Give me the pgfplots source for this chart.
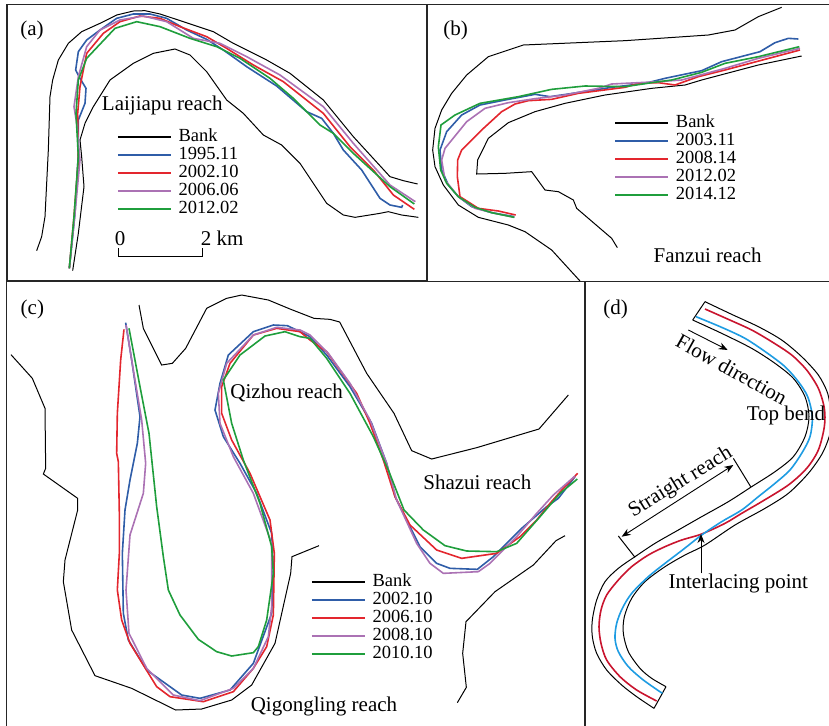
\documentclass[border=0pt]{standalone}
\usepackage{fontspec}
\setmainfont{Liberation Serif}
\usepackage{pgfplots}
\pgfplotsset{compat=1.18}
\usetikzlibrary{arrows.meta}
\definecolor{cblue}{HTML}{2F5DA8}
\definecolor{cred}{HTML}{E3262E}
\definecolor{cpurple}{HTML}{AB72B4}
\definecolor{cgreen}{HTML}{1F9E3C}
\definecolor{dblue}{HTML}{1E9CE2}
\definecolor{dred}{HTML}{C9142E}
\newcommand{\lab}{\fontsize{21}{21}\selectfont}
\newcommand{\leg}{\fontsize{18.5}{18.5}\selectfont}
\pgfplotsset{
  panel/.style={scale only axis, anchor=north west, y dir=reverse, xtick=\empty, ytick=\empty,
    axis line style={line width=1.5pt, color=black!85}, every axis plot/.append style={no markers},
    legend cell align=left,
    legend image code/.code={\draw[##1, line width=1.8pt] (0pt,0pt)--(53pt,0pt); \path (60pt,0pt);},
    legend style={draw=none, fill=none, anchor=north west, font=\leg, inner sep=0pt, row sep=0pt,
      nodes={inner sep=0pt, text height=13.5pt, text depth=4.5pt}}},
  bank/.style={black, line width=1pt},
  s/.style={#1, line width=1.6pt},
}
\begin{document}
\begin{tikzpicture}
\useasboundingbox (0pt,-725pt) rectangle (829pt,0pt);
% (a)
\begin{axis}[panel, at={(7pt,-4.67pt)}, width=420.33pt, height=276.33pt,
  xmin=21, xmax=1282, ymin=14, ymax=843, legend style={at={(axis cs:350,384)}}]
\addplot[bank] coordinates {(110,752)(125,710)(135,650)(145,450)(150,290)(158,240)(175,180)(205,130)(245,95)(300,70)(350,45)(400,33)(435,32)(480,42)(550,65)(640,95)(700,130)(800,180)(870,220)(970,300)(1060,410)(1170,530)(1210,542)(1253,552)};
\addplot[bank, forget plot] coordinates {(218,812)(235,700)(252,560)(245,470)(240,420)(255,370)(280,320)(330,240)(400,190)(460,160)(525,147)(570,165)(620,215)(680,300)(730,340)(790,405)(845,435)(900,490)(980,610)(1030,645)(1065,652)(1140,640)(1165,635)(1205,645)(1255,652)};
\addplot[s=cblue] coordinates {(208,805)(225,640)(235,460)(235,360)(255,310)(258,265)(240,235)(227,210)(235,155)(260,120)(300,90)(350,55)(400,42)(450,42)(500,55)(560,90)(620,118)(670,150)(740,200)(830,258)(920,335)(965,355)(1000,400)(1030,450)(1085,510)(1140,595)(1170,615)(1205,622)(1208,615)};
\addplot[s=cred] coordinates {(208,805)(222,650)(235,480)(233,340)(240,260)(260,160)(310,100)(360,65)(420,48)(480,55)(540,80)(620,110)(680,145)(760,195)(850,245)(970,340)(1050,440)(1120,510)(1180,585)(1243,628)};
\addplot[s=cpurple] coordinates {(208,805)(225,640)(240,480)(230,370)(222,320)(235,230)(260,140)(300,90)(360,60)(430,48)(500,65)(580,115)(660,130)(740,170)(840,225)(970,320)(1060,430)(1170,555)(1246,605)};
\addplot[s=cgreen] coordinates {(208,805)(222,650)(235,470)(228,340)(235,240)(260,175)(345,85)(410,65)(480,80)(570,115)(650,140)(720,175)(810,235)(880,295)(960,375)(1000,400)(1060,460)(1170,560)(1243,612)};
\addplot[black, line width=0.8pt, forget plot] coordinates {(355,745)(355,770)(607,770)(607,745)};
\legend{Bank,1995.11,2002.10,2006.06,2012.02}
\node[font=\lab, anchor=center] at (axis cs:96,90) {(a)};
\node[font=\lab, anchor=center] at (axis cs:487,315) {Laijiapu reach};
\node[font=\lab, anchor=center] at (axis cs:360,715) {0};
\node[font=\lab, anchor=west] at (axis cs:592,715) {2 km};
\end{axis}
% (b)
\begin{axis}[panel, at={(426.67pt,-4.67pt)}, width=405.33pt, height=277pt,
  xmin=5, xmax=1221, ymin=14, ymax=845, legend style={at={(axis cs:567,342)}}]
\addplot[bank] coordinates {(465,843)(380,750)(300,695)(250,675)(160,652)(100,615)(55,555)(30,500)(23,450)(30,385)(50,330)(80,280)(125,225)(190,170)(295,135)(600,122)(850,105)(930,90)(1000,50)(1070,22)};
\addplot[bank, forget plot] coordinates {(577,743)(560,715)(455,625)(445,600)(400,575)(360,570)(320,515)(240,520)(155,522)(158,480)(190,415)(250,368)(330,335)(420,310)(540,285)(680,265)(780,255)(830,240)(1000,195)(1130,168)};
\addplot[s=cblue] coordinates {(268,650)(200,638)(140,620)(100,590)(70,555)(50,510)(45,450)(65,395)(110,345)(165,315)(240,300)(330,283)(375,290)(430,282)(560,262)(660,250)(720,235)(830,212)(890,185)(1005,155)(1050,128)(1090,115)(1120,117)};
\addplot[s=cred] coordinates {(272,645)(220,633)(160,625)(105,590)(97,530)(98,480)(110,450)(170,390)(230,335)(270,312)(310,302)(380,298)(460,280)(600,262)(640,250)(700,248)(750,255)(820,230)(900,210)(1125,150)};
\addplot[s=cpurple] coordinates {(268,652)(210,640)(150,625)(100,590)(60,540)(50,480)(60,445)(125,365)(180,325)(250,308)(330,296)(420,285)(520,265)(560,252)(640,248)(700,245)(770,240)(900,205)(1000,175)(1125,145)};
\addplot[s=cgreen] coordinates {(268,652)(200,638)(150,622)(100,590)(65,550)(47,510)(40,440)(48,375)(90,345)(165,310)(280,290)(380,268)(480,258)(600,260)(680,248)(740,240)(830,217)(900,190)(1000,170)(1123,140)};
\legend{Bank,2003.11,2008.14,2012.02,2014.12}
\node[font=\lab, anchor=center] at (axis cs:92,90) {(b)};
\node[font=\lab, anchor=center] at (axis cs:848,765) {Fanzui reach};
\end{axis}
% (c)
\begin{axis}[panel, at={(6.67pt,-281.67pt)}, width=578.33pt, height=446.33pt,
  xmin=20, xmax=1755, ymin=5, ymax=1344, legend style={at={(axis cs:932,879)}}]
\addplot[bank] coordinates {(33,224)(97,295)(135,385)(137,565)(130,582)(233,655)(233,690)(195,840)(190,905)(215,1050)(285,1187)(395,1225)(527,1290)(605,1287)(695,1260)(755,1215)(825,1090)(872,880)(876,830)(957,797)};
\addplot[bank, forget plot] coordinates {(417,75)(430,145)(485,255)(517,250)(557,205)(620,85)(680,55)(725,45)(805,60)(870,87)(942,115)(990,118)(1019,126)(1100,280)(1182,400)(1235,512)(1295,537)(1430,503)(1590,455)(1617,447)(1705,345)};
\addplot[bank, forget plot] coordinates {(1372,1268)(1399,1222)(1388,1120)(1398,1025)(1485,935)(1600,855)(1668,782)(1695,767)};
\addplot[s=cblue] coordinates {(377,128)(395,240)(420,410)(412,490)(390,600)(375,690)(367,820)(370,1000)(385,1080)(440,1170)(545,1245)(600,1255)(690,1230)(760,1150)(815,1000)(820,870)(815,760)(770,640)(720,550)(670,470)(645,390)(660,310)(685,225)(760,155)(820,135)(862,137)(900,155)(930,170)(980,225)(1050,320)(1115,430)(1160,550)(1185,650)(1260,800)(1310,850)(1350,865)(1432,868)(1480,830)(1565,745)(1640,680)(1675,655)(1725,590)};
\addplot[s=cred] coordinates {(372,148)(362,240)(352,400)(350,520)(355,545)(358,700)(358,820)(352,930)(365,1020)(390,1090)(470,1220)(510,1250)(610,1265)(700,1235)(760,1165)(800,1100)(820,1005)(823,820)(810,720)(750,580)(695,480)(665,400)(665,320)(690,250)(760,165)(830,145)(900,155)(930,180)(980,215)(1070,340)(1110,430)(1150,540)(1185,650)(1230,735)(1310,810)(1385,835)(1490,820)(1560,770)(1610,720)(1650,670)(1690,625)(1733,580)};
\addplot[s=cpurple] coordinates {(378,135)(400,270)(425,420)(437,550)(430,640)(390,765)(378,930)(387,1060)(440,1165)(520,1245)(600,1262)(700,1225)(760,1165)(805,1070)(815,980)(815,790)(760,640)(700,530)(660,430)(655,340)(680,250)(760,165)(830,142)(900,150)(930,165)(985,220)(1050,310)(1110,420)(1160,550)(1190,660)(1250,790)(1290,850)(1330,880)(1435,875)(1470,850)(1550,770)(1610,700)(1660,645)(1725,588)};
\addplot[s=cgreen] coordinates {(387,145)(420,320)(447,460)(470,680)(490,830)(505,930)(540,1005)(595,1078)(650,1115)(695,1128)(760,1118)(775,1100)(800,1020)(820,880)(815,800)(780,670)(730,540)(695,430)(670,300)(720,225)(795,168)(855,155)(900,170)(930,175)(980,235)(1050,340)(1120,470)(1165,570)(1212,690)(1270,750)(1335,797)(1400,813)(1490,815)(1550,790)(1620,710)(1680,640)(1732,597)};
\legend{Bank,2002.10,2006.10,2008.10,2010.10}
\node[font=\lab, anchor=center] at (axis cs:97,87) {(c)};
\node[font=\lab, anchor=center] at (axis cs:860,340) {Qizhou reach};
\node[font=\lab, anchor=center] at (axis cs:1432,608) {Shazui reach};
\node[font=\lab, anchor=center] at (axis cs:972,1278) {Qigongling reach};
\end{axis}
% (d)
\begin{axis}[panel, at={(585.67pt,-281.67pt)}, width=246.33pt, height=446.33pt,
  xmin=2, xmax=741, ymin=5, ymax=1344]
\addplot[bank, smooth] coordinates {(360,65)(440,103)(520,140)(590,180)(650,230)(700,285)(728,340)(737,400)(735,460)(712,520)(670,580)(610,640)(540,685)(450,735)(360,795)(300,825)(240,860)(180,905)(140,955)(118,1010)(115,1060)(130,1115)(165,1165)(200,1195)(243,1220)};
\addplot[bank, smooth] coordinates {(323,120)(410,160)(500,205)(570,250)(625,295)(660,350)(672,410)(660,470)(625,530)(570,575)(500,620)(430,665)(350,710)(280,750)(210,790)(150,830)(100,865)(60,905)(35,960)(22,1020)(22,1070)(35,1120)(65,1170)(110,1215)(155,1250)(207,1285)};
\addplot[bank] coordinates {(360,65)(323,120)};
\addplot[bank] coordinates {(243,1220)(207,1285)};
\addplot[s=dred, smooth] coordinates {(360,87)(430,118)(500,150)(560,185)(620,225)(665,270)(700,325)(718,385)(718,440)(700,510)(665,565)(610,615)(530,665)(470,700)(420,730)(350,762)(290,780)(240,800)(190,825)(140,860)(100,900)(65,945)(48,990)(42,1040)(48,1090)(65,1140)(105,1190)(155,1230)(215,1263)};
\addplot[s=dblue, smooth] coordinates {(333,110)(410,142)(480,175)(545,218)(600,260)(640,305)(668,350)(682,410)(675,470)(650,520)(615,570)(570,610)(520,650)(470,690)(410,725)(350,765)(295,808)(240,850)(190,890)(140,940)(112,985)(95,1030)(90,1075)(100,1115)(130,1160)(175,1200)(232,1240)};
\addplot[black, line width=0.9pt, -{Stealth[length=9pt,width=7pt]}] coordinates {(310,150)(428,210)};
\addplot[black, line width=0.9pt, {Stealth[length=9pt,width=7pt]}-{Stealth[length=9pt,width=7pt]}] coordinates {(110,770)(445,555)};
\addplot[bank] coordinates {(445,535)(497,620)};
\addplot[bank] coordinates {(100,768)(150,832)};
\addplot[black, line width=0.9pt, -{Stealth[length=9pt,width=7pt]}] coordinates {(348,880)(348,762)};
\node[font=\lab, anchor=center] at (axis cs:92,87) {(d)};
\node[font=\lab, anchor=center, rotate=-29] at (axis cs:440,268) {Flow direction};
\node[font=\lab, anchor=center] at (axis cs:603,407) {Top bend};
\node[font=\lab, anchor=center, rotate=31.5] at (axis cs:287,608) {Straight reach};
\node[font=\lab, anchor=center] at (axis cs:460,910) {Interlacing point};
\end{axis}
\end{tikzpicture}
\end{document}
